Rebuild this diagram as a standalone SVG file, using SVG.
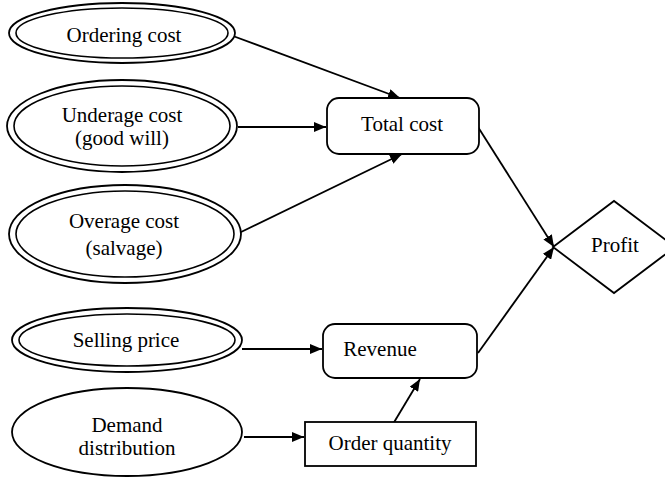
<svg xmlns="http://www.w3.org/2000/svg" width="665" height="479" viewBox="0 0 665 479">
<defs>
<marker id="arr" markerWidth="12" markerHeight="10" refX="12" refY="5" orient="auto" markerUnits="userSpaceOnUse">
<path d="M0,0 L12,5 L0,10 Z" fill="#000"/>
</marker>
</defs>
<style>
.sh{fill:#fff;stroke:#000;stroke-width:1.8}
.in{fill:none;stroke:#000;stroke-width:1.6}
.t{font-family:"Liberation Serif","Times New Roman",serif;font-size:21px;fill:#000;text-anchor:middle}
.c{fill:none;stroke:#000;stroke-width:1.8;marker-end:url(#arr)}
</style>
<rect width="665" height="479" fill="#fff"/>
<g id="connectors">
<line class="c" x1="233" y1="36" x2="400" y2="98"/>
<line class="c" x1="238" y1="127" x2="326" y2="127"/>
<line class="c" x1="239" y1="233" x2="402" y2="154"/>
<line class="c" x1="478" y1="127" x2="554" y2="247"/>
<line class="c" x1="478" y1="353" x2="554" y2="247"/>
<line class="c" x1="242" y1="349" x2="322" y2="349"/>
<line class="c" x1="244" y1="437" x2="304" y2="437"/>
<line class="c" x1="393" y1="424" x2="420" y2="379"/>
</g>
<g id="ordering-cost">
<ellipse class="sh" cx="122" cy="33" rx="113" ry="30"/>
<ellipse class="in" cx="122" cy="33" rx="106" ry="25"/>
<text class="t" x="124" y="42">Ordering cost</text>
</g>
<g id="underage-cost">
<ellipse class="sh" cx="122" cy="126" rx="115" ry="46"/>
<ellipse class="in" cx="122" cy="126" rx="108" ry="40"/>
<text class="t" x="122" y="122">Underage cost</text>
<text class="t" x="122" y="145">(good will)</text>
</g>
<g id="overage-cost">
<ellipse class="sh" cx="125" cy="234" rx="116" ry="49"/>
<ellipse class="in" cx="125" cy="234" rx="109" ry="43"/>
<text class="t" x="124" y="228">Overage cost</text>
<text class="t" x="124" y="255">(salvage)</text>
</g>
<g id="selling-price">
<ellipse class="sh" cx="127" cy="340" rx="115" ry="32"/>
<ellipse class="in" cx="127" cy="340" rx="108" ry="26"/>
<text class="t" x="126" y="347">Selling price</text>
</g>
<g id="demand-distribution">
<ellipse class="sh" cx="127" cy="432" rx="115" ry="44"/>
<text class="t" x="127" y="432">Demand</text>
<text class="t" x="127" y="455">distribution</text>
</g>
<g id="total-cost">
<rect class="sh" x="327" y="98" width="152" height="56" rx="12"/>
<text class="t" x="402" y="131">Total cost</text>
</g>
<g id="revenue">
<rect class="sh" x="323" y="324" width="154" height="54" rx="12"/>
<text class="t" x="380" y="356">Revenue</text>
</g>
<g id="order-quantity">
<rect class="sh" x="305" y="422" width="171" height="44"/>
<text class="t" x="390" y="450">Order quantity</text>
</g>
<g id="profit">
<polygon class="sh" points="553,247 614,201 675,247 614,293"/>
<text class="t" x="615" y="252">Profit</text>
</g>
</svg>
